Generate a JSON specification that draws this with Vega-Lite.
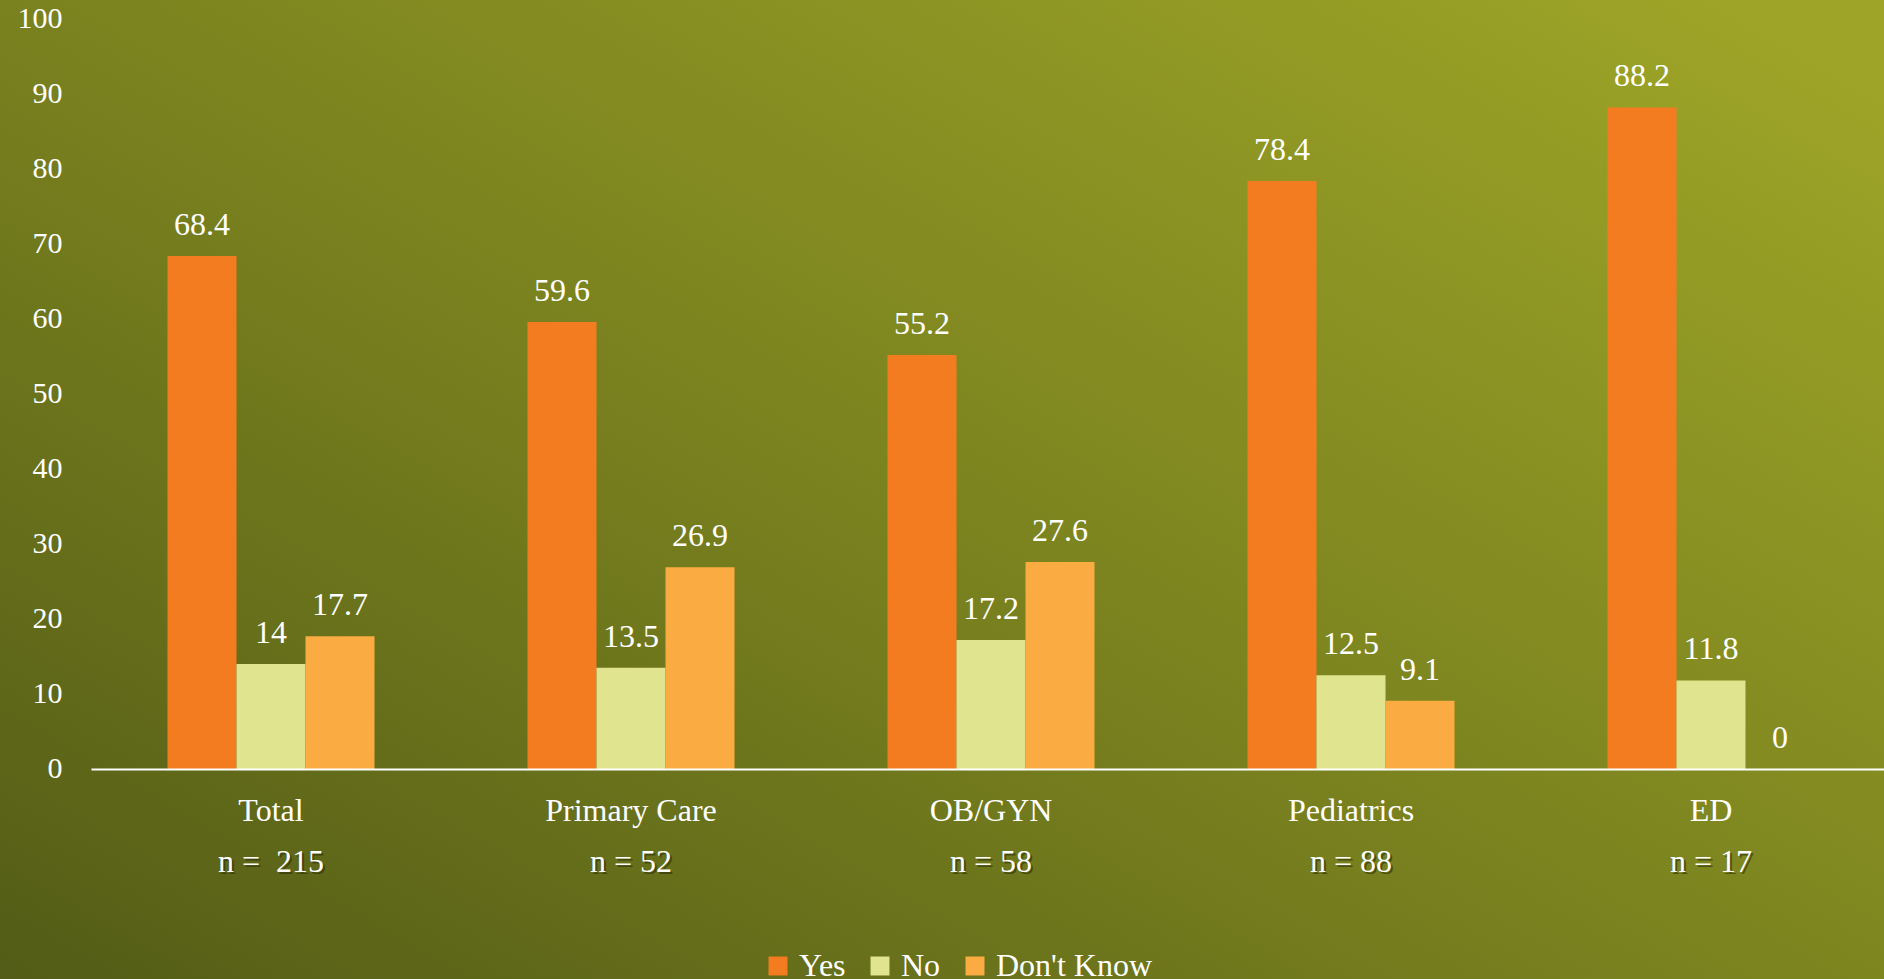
{
  "$schema": "https://vega.github.io/schema/vega-lite/v6.json",
  "width": 1884,
  "height": 979,
  "autosize": {"type": "none"},
  "padding": 0,
  "background": "#747b1e",
  "config": {"view": {"stroke": null}, "font": "Liberation Serif"},
  "datasets": {
    "bars": [
      {"category": "Total", "group": "Yes", "value": 68.4},
      {"category": "Total", "group": "No", "value": 14},
      {"category": "Total", "group": "Don't Know", "value": 17.7},
      {"category": "Primary Care", "group": "Yes", "value": 59.6},
      {"category": "Primary Care", "group": "No", "value": 13.5},
      {"category": "Primary Care", "group": "Don't Know", "value": 26.9},
      {"category": "OB/GYN", "group": "Yes", "value": 55.2},
      {"category": "OB/GYN", "group": "No", "value": 17.2},
      {"category": "OB/GYN", "group": "Don't Know", "value": 27.6},
      {"category": "Pediatrics", "group": "Yes", "value": 78.4},
      {"category": "Pediatrics", "group": "No", "value": 12.5},
      {"category": "Pediatrics", "group": "Don't Know", "value": 9.1},
      {"category": "ED", "group": "Yes", "value": 88.2},
      {"category": "ED", "group": "No", "value": 11.8},
      {"category": "ED", "group": "Don't Know", "value": 0}
    ],
    "groups": [
      {"category": "Total", "n": "n = \u00a0215"},
      {"category": "Primary Care", "n": "n = 52"},
      {"category": "OB/GYN", "n": "n = 58"},
      {"category": "Pediatrics", "n": "n = 88"},
      {"category": "ED", "n": "n = 17"}
    ],
    "bg": [{"id": 1}]
  },
  "layer": [
    {
      "data": {"name": "bg"},
      "mark": {
        "type": "rect",
        "color": {
          "gradient": "linear",
          "x1": 0, "y1": 1, "x2": 1, "y2": 0.1,
          "stops": [
            {"offset": 0, "color": "#535c16"},
            {"offset": 0.5, "color": "#7a821f"},
            {"offset": 1, "color": "#9da427"}
          ]
        }
      },
      "encoding": {}
    },
    {
      "data": {"name": "bars"},
      "mark": {"type": "bar"},
      "encoding": {
        "x": {
          "field": "category", "type": "nominal",
          "scale": {"domain": ["Total", "Primary Care", "OB/GYN", "Pediatrics", "ED"], "range": [91, 1891], "paddingInner": 0.425, "paddingOuter": 0.2125},
          "axis": {
            "title": null, "orient": "bottom", "offset": -210, "labelAngle": 0, "zindex": 1,
            "labelFontSize": 32, "labelColor": "#ffffff", "labelBaseline": "alphabetic",
            "labelPadding": 51, "ticks": false, "tickSize": 0,
            "domainColor": "#ffffff", "domainWidth": 2, "grid": false
          }
        },
        "xOffset": {
          "field": "group", "type": "nominal",
          "scale": {"domain": ["Yes", "No", "Don't Know"], "paddingInner": 0, "paddingOuter": 0}
        },
        "y": {
          "field": "value", "type": "quantitative",
          "scale": {"domain": [-28, 102.533], "nice": false, "zero": false},
          "axis": {
            "title": null, "orient": "left", "offset": -91, "zindex": 1,
            "values": [0, 10, 20, 30, 40, 50, 60, 70, 80, 90, 100],
            "domain": false, "ticks": false, "tickSize": 0, "grid": false,
            "labelPadding": 29, "labelFontSize": 30, "labelColor": "#ffffff"
          }
        },
        "y2": {"datum": 0},
        "color": {
          "field": "group", "type": "nominal",
          "scale": {"domain": ["Yes", "No", "Don't Know"], "range": ["#f37c21", "#e0e48f", "#faac42"]},
          "legend": {
            "title": null, "orient": "none", "direction": "horizontal",
            "legendX": 762, "legendY": 950, "padding": 0,
            "symbolType": "square", "symbolSize": 360, "symbolStrokeWidth": 0,
            "labelFontSize": 32, "labelColor": "#ffffff", "labelOffset": 5,
            "columnPadding": 18, "labelFont": "Liberation Serif"
          }
        }
      }
    },
    {
      "data": {"name": "bars"},
      "mark": {"type": "text", "baseline": "alphabetic", "dy": -21, "fontSize": 32, "color": "#ffffff"},
      "encoding": {
        "x": {"field": "category", "type": "nominal", "scale": {"domain": ["Total", "Primary Care", "OB/GYN", "Pediatrics", "ED"]}},
        "xOffset": {"field": "group", "type": "nominal", "scale": {"domain": ["Yes", "No", "Don't Know"]}},
        "y": {"field": "value", "type": "quantitative"},
        "text": {"field": "value", "type": "quantitative"}
      }
    },
    {
      "data": {"name": "groups"},
      "mark": {"type": "text", "baseline": "alphabetic", "dy": 105, "dx": 2, "fontSize": 32, "color": "#2b3008", "opacity": 0.6},
      "encoding": {
        "x": {"field": "category", "type": "nominal", "scale": {"domain": ["Total", "Primary Care", "OB/GYN", "Pediatrics", "ED"]}},
        "y": {"datum": 0},
        "text": {"field": "n"}
      }
    },
    {
      "data": {"name": "groups"},
      "mark": {"type": "text", "baseline": "alphabetic", "dy": 103, "fontSize": 32, "color": "#ffffff"},
      "encoding": {
        "x": {"field": "category", "type": "nominal", "scale": {"domain": ["Total", "Primary Care", "OB/GYN", "Pediatrics", "ED"]}},
        "y": {"datum": 0},
        "text": {"field": "n"}
      }
    }
  ]
}
